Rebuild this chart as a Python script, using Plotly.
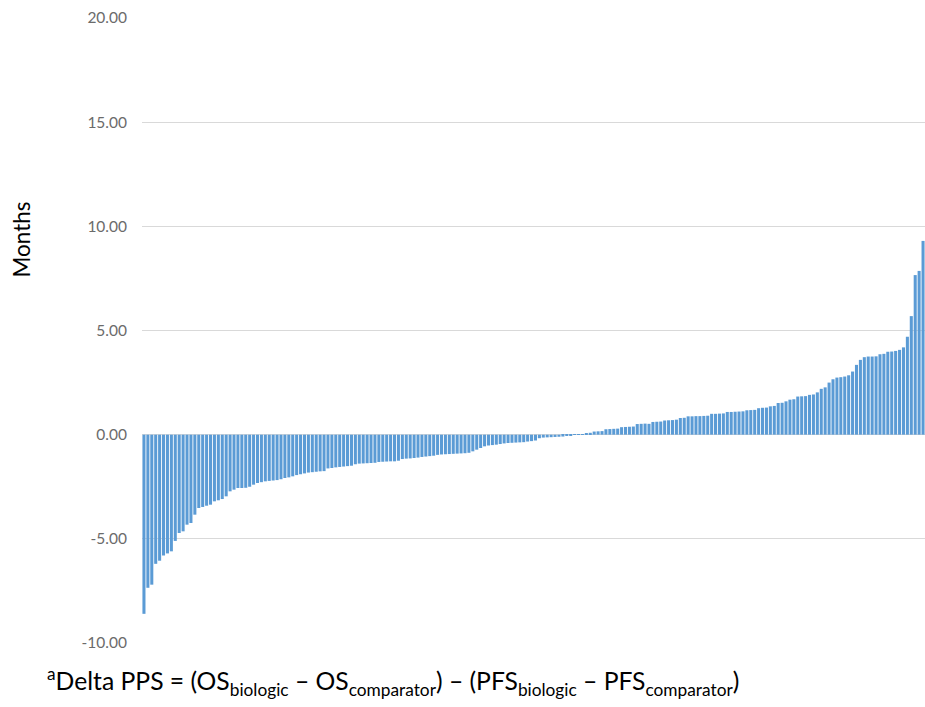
import plotly.graph_objects as go

# Delta PPS per trial (months), sorted ascending
delta_pps = [
    -8.6, -7.35, -7.2, -6.2, -6.05, -5.8, -5.7, -5.6, -5.1, -4.72,
    -4.64, -4.32, -4.24, -3.84, -3.52, -3.47, -3.41, -3.36, -3.2, -3.15,
    -3.09, -2.96, -2.72, -2.64, -2.56, -2.56, -2.55, -2.5, -2.4, -2.32,
    -2.28, -2.24, -2.22, -2.2, -2.18, -2.14, -2.08, -2.05, -2.0, -1.94,
    -1.9, -1.86, -1.82, -1.8, -1.78, -1.76, -1.75, -1.62, -1.6, -1.57,
    -1.55, -1.53, -1.51, -1.49, -1.42, -1.39, -1.38, -1.37, -1.36, -1.35,
    -1.31, -1.3, -1.29, -1.28, -1.28, -1.25, -1.17, -1.15, -1.14, -1.12,
    -1.1, -1.07, -1.05, -1.03, -1.01, -0.97, -0.95, -0.94, -0.93, -0.92,
    -0.91, -0.9, -0.89, -0.87, -0.8, -0.72, -0.64, -0.56, -0.52, -0.5,
    -0.48, -0.45, -0.42, -0.4, -0.39, -0.38, -0.37, -0.36, -0.33, -0.31,
    -0.28, -0.17, -0.14, -0.13, -0.12, -0.11, -0.1, -0.09, -0.06, -0.03,
    -0.01, 0.01, 0.03, 0.08, 0.09, 0.15, 0.16, 0.17, 0.26, 0.27,
    0.28, 0.29, 0.36, 0.37, 0.38, 0.39, 0.51, 0.52, 0.53, 0.52,
    0.61, 0.62, 0.63, 0.68, 0.69, 0.7, 0.72, 0.8, 0.81, 0.88,
    0.88, 0.89, 0.89, 0.9, 0.91, 1.0, 1.0, 1.01, 1.02, 1.09,
    1.09, 1.1, 1.11, 1.12, 1.17, 1.18, 1.19, 1.27, 1.29, 1.3,
    1.36, 1.38, 1.52, 1.53, 1.6, 1.68, 1.7, 1.83, 1.84, 1.85,
    1.91, 1.93, 2.03, 2.2, 2.27, 2.5, 2.66, 2.74, 2.76, 2.79,
    2.85, 3.03, 3.35, 3.59, 3.72, 3.75, 3.75, 3.76, 3.86, 3.88,
    3.98, 3.99, 4.02, 4.07, 4.19, 4.7, 5.69, 7.66, 7.86, 9.3,
]
trial_index = list(range(1, len(delta_pps) + 1))

y_ticks = [-10, -5, 0, 5, 10, 15, 20]
y_tick_labels = ["-10.00", "-5.00", "0.00", "5.00", "10.00", "15.00", "20.00"]

fig = go.Figure(
    go.Bar(
        x=trial_index,
        y=delta_pps,
        marker=dict(color="#5B9BD5", line=dict(width=0)),
        hoverinfo="y",
    )
)

fig.update_layout(
    width=925,
    height=707,
    margin=dict(l=142, r=0, t=18, b=64),
    paper_bgcolor="white",
    plot_bgcolor="white",
    bargap=0.22,
    showlegend=False,
    font=dict(family="Lato, Open Sans, sans-serif"),
    xaxis=dict(
        visible=False,
        range=[0.5, len(delta_pps) + 0.5],
    ),
    yaxis=dict(
        range=[-10, 20],
        tickvals=y_ticks,
        ticktext=y_tick_labels,
        showgrid=True,
        gridcolor="#D9D9D9",
        gridwidth=1,
        zeroline=True,
        zerolinecolor="#D9D9D9",
        zerolinewidth=1,
        showline=False,
        ticks="",
        ticklabelstandoff=14,
        tickfont=dict(size=15.5, color="#6b6b6b", family="Lato, sans-serif"),
    ),
    annotations=[
        dict(
            text="Months",
            xref="paper", yref="paper",
            x=-0.1533, y=0.6456,
            xanchor="center", yanchor="middle",
            textangle=-90,
            showarrow=False,
            font=dict(size=22.5, color="#000000", family="Lato, sans-serif"),
        ),
        dict(
            text="<sup>a</sup>Delta PPS = (OS<sub>biologic</sub> – OS<sub>comparator</sub>) – (PFS<sub>biologic</sub> – PFS<sub>comparator</sub>)",
            xref="paper", yref="paper",
            x=-0.1239, y=-0.0944,
            xanchor="left", yanchor="bottom",
            showarrow=False,
            font=dict(size=24.7, color="#000000", family="Lato, sans-serif"),
        ),
    ],
)

fig.write_html(
    "out.html",
    config={"displayModeBar": False},
    post_script="document.body.style.margin='0px';document.body.style.overflow='hidden';",
)
